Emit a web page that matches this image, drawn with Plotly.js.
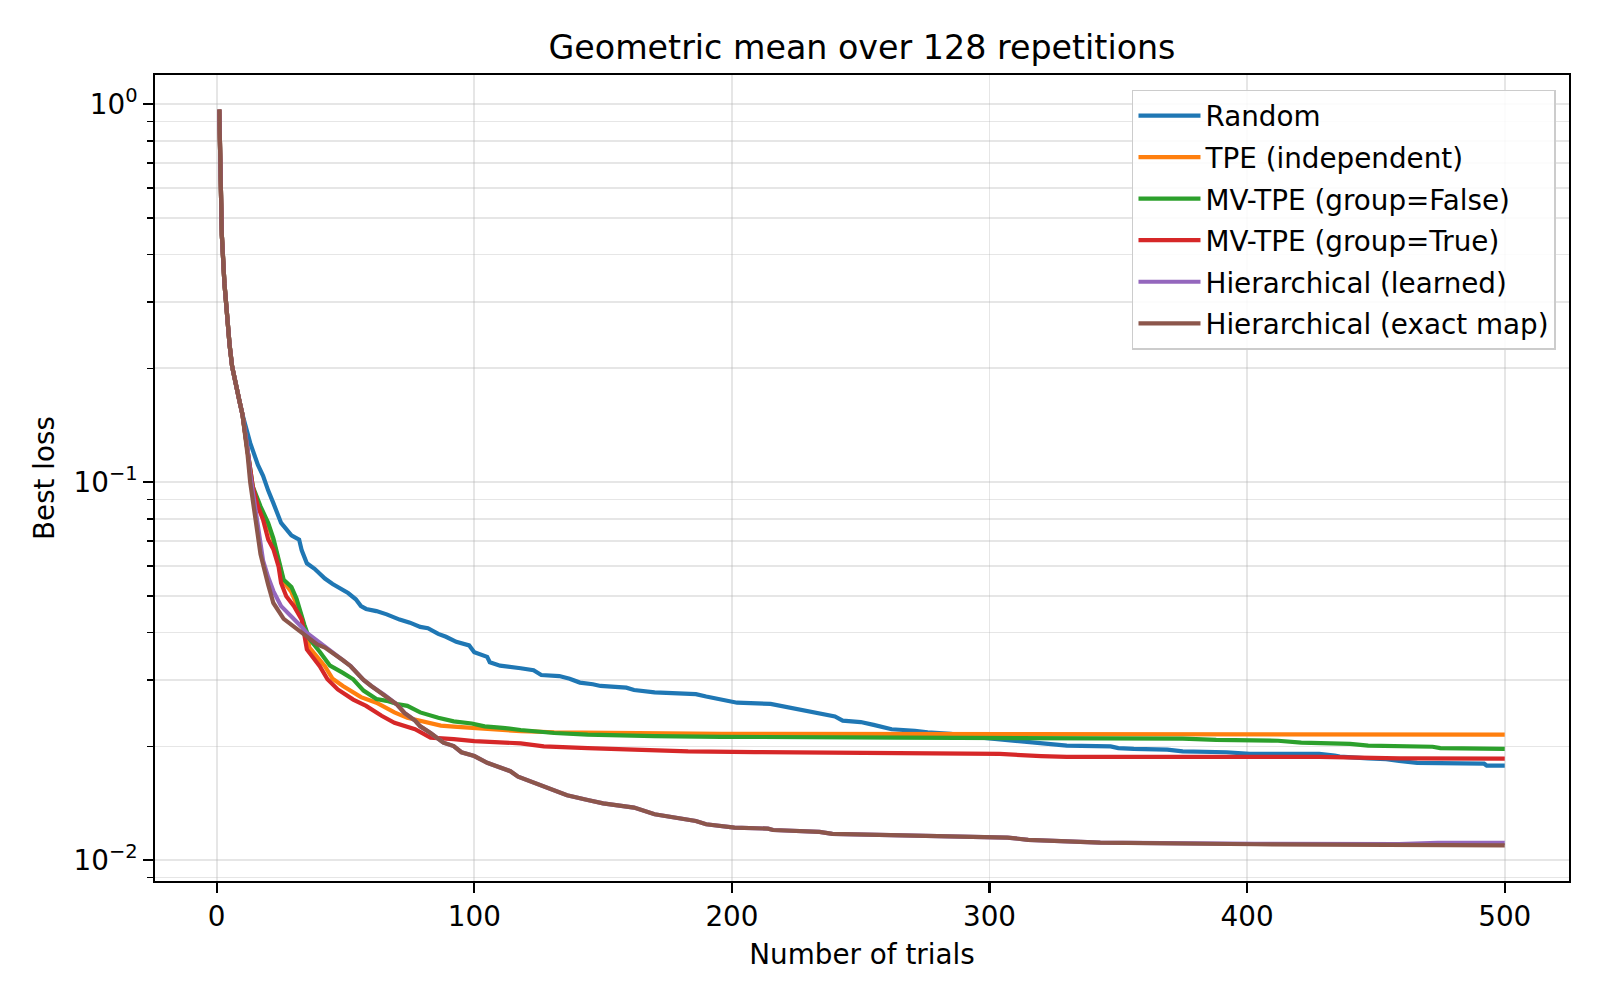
<!DOCTYPE html>
<html>
<head>
<meta charset="utf-8">
<script src="https://cdn.plot.ly/plotly-3.0.1.min.js"></script>
<style>html,body{margin:0;padding:0;background:#fff;}#chart{width:1600px;height:1000px;}</style>
</head>
<body>
<div id="chart"></div>
<script>
// Shared initial (random start-up) trials, identical for all methods
const initialTrials = [1,2,3,4,5,6,7,8,9,10];
const initialLoss   = [0.967,0.45,0.336,0.269,0.231,0.202,0.186,0.174,0.162,0.151];

const randomTrials = [11,12,13,16,18,20,21,22,25,29,32,33,35,38,42,45,51,54,56,58,62,66,71,75,79,82,86,89,93,98,100,105,106,110,118,123,126,133,137,141,146,149,159,162,170,177,186,190,198,202,215,221,229,233,240,243,250,255,258,262,271,276,285,291,300,307,317,321,330,347,350,356,369,375,392,401,428,434,436,447,454,459,466,492,493,500];
const randomLoss   = [0.142,0.137,0.127,0.111,0.104,0.095,0.092,0.088,0.078,0.0723,0.0705,0.066,0.061,0.059,0.0556,0.0538,0.0509,0.049,0.047,0.0462,0.0456,0.0447,0.0433,0.0425,0.0414,0.0411,0.0397,0.039,0.0378,0.037,0.0355,0.0345,0.0334,0.0327,0.0322,0.0318,0.0309,0.0307,0.0302,0.0295,0.0292,0.0289,0.0286,0.0282,0.0278,0.0277,0.0275,0.0271,0.0265,0.0261,0.0259,0.0254,0.0249,0.0245,0.024,0.0234,0.0232,0.0228,0.0226,0.0222,0.022,0.0218,0.0216,0.0213,0.021,0.0208,0.0205,0.0203,0.0201,0.02,0.0198,0.0197,0.0196,0.0194,0.0193,0.0191,0.0191,0.0189,0.0188,0.0186,0.0185,0.0183,0.0181,0.018,0.0178,0.0178];

const tpeTrials = [11,12,14,17,20,22,24,26,29,32,35,36,42,45,49,56,62,69,74,82,87,92,99,105,118,131,157,196,500];
const tpeLoss   = [0.134,0.123,0.096,0.085,0.077,0.07,0.0615,0.0545,0.0512,0.046,0.0395,0.0365,0.0326,0.0302,0.0289,0.027,0.0261,0.0246,0.0238,0.0231,0.0227,0.02255,0.0224,0.0222,0.02195,0.0218,0.0217,0.0216,0.0215];

const mvFalseTrials = [11,12,14,17,20,22,24,26,29,31,34,36,40,44,49,53,57,62,66,70,74,79,86,92,99,104,111,118,131,144,170,196,265,343,375,388,412,421,440,447,459,472,475,500];
const mvFalseLoss   = [0.135,0.124,0.0974,0.0863,0.078,0.071,0.0625,0.0552,0.0528,0.0492,0.042,0.0385,0.0356,0.0327,0.0313,0.0301,0.0281,0.0267,0.0264,0.0259,0.0256,0.0246,0.0238,0.0233,0.023,0.0226,0.0224,0.0221,0.0217,0.0215,0.0213,0.0212,0.0211,0.021,0.02097,0.0208,0.0207,0.02046,0.0203,0.0201,0.02,0.01996,0.0198,0.0197];

const mvTrueTrials = [11,12,14,16,18,20,22,24,25,27,30,33,35,38,40,43,47,53,58,64,69,77,83,92,100,118,127,144,170,183,209,273,304,320,330,428,459,500];
const mvTrueLoss   = [0.133,0.121,0.0974,0.0863,0.0796,0.0705,0.0665,0.0599,0.0541,0.0499,0.047,0.0433,0.0361,0.034,0.0326,0.0301,0.0283,0.0266,0.0256,0.0241,0.0231,0.0222,0.0211,0.0209,0.02066,0.02037,0.02,0.0198,0.01956,0.0194,0.01932,0.01917,0.0191,0.01886,0.01877,0.01877,0.0186,0.01857];

const learnedTrials = [11,12,13,14,16,18,20,22,25,29,33,35,39,42,45,49,52,57,60,65,70,73,77,79,83,88,92,95,100,105,114,117,123,128,136,144,150,162,170,186,190,201,214,216,234,239,265,307,315,343,403,459,474,500];
const learnedLoss   = [0.137,0.122,0.105,0.094,0.0764,0.062,0.056,0.0515,0.047,0.0442,0.0414,0.0399,0.038,0.0366,0.0354,0.0338,0.0326,0.03,0.0289,0.0274,0.0258,0.0245,0.0234,0.0226,0.0217,0.02046,0.02004,0.0193,0.01886,0.0181,0.0172,0.01663,0.01604,0.01556,0.01485,0.01443,0.01414,0.01378,0.01323,0.0127,0.01245,0.0122,0.01212,0.01202,0.01188,0.01174,0.01164,0.01148,0.01132,0.01113,0.01105,0.01103,0.01112,0.01112];

const exactTrials = [11,12,13,15,17,20,22,26,30,33,35,39,42,45,49,52,57,60,65,70,73,77,79,83,88,92,95,100,105,114,117,123,128,136,144,150,162,170,186,190,201,214,216,234,239,265,307,315,343,403,459,474,500];
const exactLoss   = [0.136,0.118,0.1,0.0812,0.0645,0.0535,0.0479,0.0435,0.0414,0.0399,0.0391,0.0372,0.0365,0.0354,0.0338,0.0326,0.03,0.0289,0.0274,0.0258,0.0245,0.0234,0.0226,0.0217,0.02046,0.02004,0.0193,0.01886,0.0181,0.0172,0.01663,0.01604,0.01556,0.01485,0.01443,0.01414,0.01378,0.01323,0.0127,0.01245,0.0122,0.01212,0.01202,0.01188,0.01174,0.01164,0.01148,0.01132,0.01113,0.01102,0.01098,0.01097,0.01095];

const seriesNames  = ["Random","TPE (independent)","MV-TPE (group=False)","MV-TPE (group=True)","Hierarchical (learned)","Hierarchical (exact map)"];
const seriesColors = ["#1f77b4","#ff7f0e","#2ca02c","#d62728","#9467bd","#8c564b"];
const seriesX = [randomTrials,tpeTrials,mvFalseTrials,mvTrueTrials,learnedTrials,exactTrials];
const seriesY = [randomLoss,tpeLoss,mvFalseLoss,mvTrueLoss,learnedLoss,exactLoss];

const xTicks = [0,100,200,300,400,500];
const yMajor = [1,0.1,0.01];
const yMajorText = ["10<sup>0</sup>","10<sup>−1</sup>","10<sup>−2</sup>"];
const yMinor = [0.009,0.02,0.03,0.04,0.05,0.06,0.07,0.08,0.09,0.2,0.3,0.4,0.5,0.6,0.7,0.8,0.9];

const traces = seriesNames.map((name,i)=>({
  type:'scatter', mode:'lines', name:name, legendgroup:'g'+i,
  x: initialTrials.concat(seriesX[i]),
  y: initialLoss.concat(seriesY[i]),
  line:{color:seriesColors[i], width:4.2}
}));

const font = "DejaVu Sans, sans-serif";
const gridC = "rgba(176,176,176,0.32)";
const layout = {
  width:1600, height:1000,
  margin:{l:155, r:31, t:75, b:119},
  paper_bgcolor:'#fff', plot_bgcolor:'#fff',
  font:{family:font, size:27.8, color:'#000'},
  title:{text:"Geometric mean over 128 repetitions", font:{family:font,size:33.3,color:'#000'},
         x:0.5, xref:'paper', xanchor:'center', y:0.953, yref:'container', yanchor:'middle'},
  showlegend:true,
  legend:{x:0.9908, xanchor:'right', y:0.982, yanchor:'top', bgcolor:'rgba(255,255,255,0.85)',
          bordercolor:'#cccccc', borderwidth:1.5, font:{family:font,size:27.8,color:'#000'},
          itemwidth:62, tracegroupgap:2.4, traceorder:'grouped'},
  xaxis:{range:[-23.95,524.95], tickmode:'array', tickvals:xTicks, ticktext:xTicks.map(String),
         ticks:'outside', ticklen:9.7, tickwidth:2.2, tickcolor:'#000',
         showline:true, linecolor:'#000', linewidth:2.2, mirror:true,
         showgrid:true, gridcolor:gridC, gridwidth:1.8, zeroline:false,
         tickfont:{family:font,size:27.8,color:'#000'},
         title:{text:"Number of trials", font:{family:font,size:27.8,color:'#000'}, standoff:12}},
  yaxis:{type:'log', range:[-2.055,0.077], tickmode:'array', tickvals:yMajor, ticktext:yMajorText,
         ticks:'outside', ticklen:9.7, tickwidth:2.2, tickcolor:'#000',
         showline:true, linecolor:'#000', linewidth:2.2, mirror:true,
         showgrid:true, gridcolor:gridC, gridwidth:1.8, zeroline:false,
         tickfont:{family:font,size:27.8,color:'#000'},
         minor:{tickmode:'array', tickvals:yMinor, ticks:'outside', ticklen:5.6, tickwidth:1.7, tickcolor:'#000',
                showgrid:true, gridcolor:gridC, gridwidth:1.8},
         title:{text:"Best loss", font:{family:font,size:27.8,color:'#000'}, standoff:11}}
};

Plotly.newPlot('chart', traces, layout, {displayModeBar:false, staticPlot:true});
</script>
</body>
</html>
